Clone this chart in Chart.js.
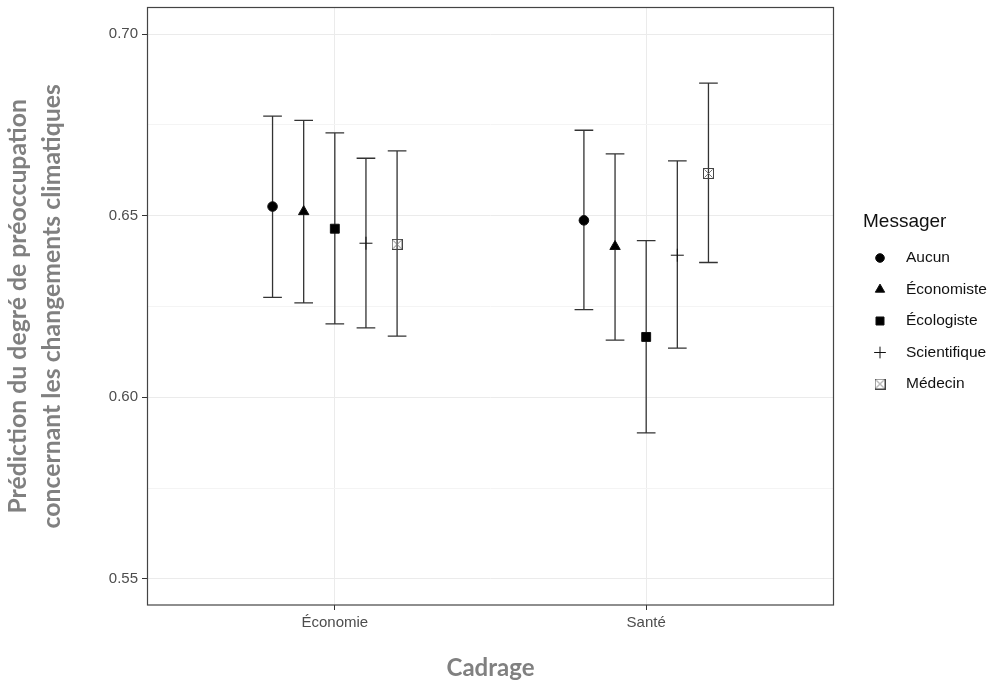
<!DOCTYPE html>
<html>
<head>
<meta charset="utf-8">
<title>Prédiction selon le cadrage et le messager</title>
<script src="https://cdn.jsdelivr.net/npm/chart.js@4.4.0/dist/chart.umd.min.js"></script>
<style>
  html, body { margin: 0; padding: 0; background: #fff; }
  #wrap { width: 989px; height: 683px; }
</style>
</head>
<body>
<div id="wrap"><canvas id="chart"></canvas></div>
<script>
var cadrages = ['Économie', 'Santé'];
var messagers = ['Aucun', 'Économiste', 'Écologiste', 'Scientifique', 'Médecin'];

// predictions and 95% bounds, ordered like messagers
var estEconomie  = [0.6525, 0.6511, 0.6464, 0.6424, 0.6421];
var lowEconomie  = [0.6275, 0.6260, 0.6202, 0.6191, 0.6168];
var highEconomie = [0.6774, 0.6762, 0.6728, 0.6658, 0.6678];

var estSante  = [0.6487, 0.6415, 0.6166, 0.6391, 0.6616];
var lowSante  = [0.6241, 0.6157, 0.5902, 0.6135, 0.6371];
var highSante = [0.6735, 0.6670, 0.6431, 0.6651, 0.6865];

var yMajor = [0.55, 0.60, 0.65, 0.70];
var yMinor = [0.575, 0.625, 0.675];

var dodge = 0.1;      // space between messagers inside a cadrage
var capWidth = 0.06;  // errorbar cap, x units

// marker for Médecin: square with an X inside
function boxX() {
  var c = document.createElement('canvas');
  c.width = 11; c.height = 11;
  var g = c.getContext('2d');
  g.strokeStyle = '#444';
  g.lineWidth = 1;
  g.strokeRect(0.5, 0.5, 10, 10);
  g.strokeStyle = '#777';
  g.beginPath();
  g.moveTo(1.5, 1.5); g.lineTo(9.5, 9.5);
  g.moveTo(9.5, 1.5); g.lineTo(1.5, 9.5);
  g.stroke();
  return c;
}

var styles = [
  { pointStyle: 'circle',   radius: 4.8 },
  { pointStyle: 'triangle', radius: 6 },
  { pointStyle: 'rect',     radius: 6.3 },
  { pointStyle: 'cross',    radius: 6.5 },
  { pointStyle: boxX(),     radius: 5.5 }
];

var est  = [estEconomie, estSante];
var low  = [lowEconomie, lowSante];
var high = [highEconomie, highSante];

var datasets = messagers.map(function (m, j) {
  return {
    label: m,
    data: cadrages.map(function (c, i) {
      return { x: i + 1 + (j - 2) * dodge, y: est[i][j], low: low[i][j], high: high[i][j] };
    }),
    pointStyle: styles[j].pointStyle,
    pointRadius: styles[j].radius,
    pointHoverRadius: styles[j].radius,
    backgroundColor: '#000',
    borderColor: '#111',
    borderWidth: 1,
    showLine: false
  };
});

function isMajor(v) {
  return yMajor.some(function (m) { return Math.abs(m - v) < 1e-6; });
}

function noPadding(scale) {
  scale.paddingTop = 0;
  scale.paddingBottom = 0;
  scale.paddingLeft = 0;
  scale.paddingRight = 0;
}

// vertical bars + caps, drawn under the points
var errorBars = {
  id: 'errorBars',
  beforeDatasetsDraw: function (chart) {
    var ctx = chart.ctx, xs = chart.scales.x, ys = chart.scales.y;
    ctx.save();
    ctx.strokeStyle = '#333';
    ctx.lineWidth = 1.3;
    chart.data.datasets.forEach(function (ds) {
      ds.data.forEach(function (p) {
        var x = xs.getPixelForValue(p.x);
        var x0 = xs.getPixelForValue(p.x - capWidth / 2);
        var x1 = xs.getPixelForValue(p.x + capWidth / 2);
        var yt = ys.getPixelForValue(p.high);
        var yb = ys.getPixelForValue(p.low);
        ctx.beginPath();
        ctx.moveTo(x, yt); ctx.lineTo(x, yb);
        ctx.moveTo(x0, yt); ctx.lineTo(x1, yt);
        ctx.moveTo(x0, yb); ctx.lineTo(x1, yb);
        ctx.stroke();
      });
    });
    ctx.restore();
  }
};

// panel border on all four sides
var panelBorder = {
  id: 'panelBorder',
  afterDraw: function (chart) {
    var a = chart.chartArea, ctx = chart.ctx;
    ctx.save();
    ctx.strokeStyle = '#444';
    ctx.lineWidth = 1.2;
    ctx.strokeRect(a.left - 0.5, a.top, a.right - a.left + 1, a.bottom - a.top);
    ctx.restore();
  }
};

// legend on the right, ggplot style
var messagerLegend = {
  id: 'messagerLegend',
  afterDraw: function (chart) {
    var ctx = chart.ctx;
    ctx.save();
    ctx.fillStyle = '#111';
    ctx.textBaseline = 'middle';
    ctx.textAlign = 'left';
    ctx.font = '19px "Liberation Sans", Arial, sans-serif';
    ctx.fillText('Messager', 863, 222);
    ctx.font = '15.5px "Liberation Sans", Arial, sans-serif';
    chart.data.datasets.forEach(function (ds, j) {
      var y = 258 + j * 31.5;
      ctx.fillStyle = '#000';
      ctx.strokeStyle = '#111';
      ctx.lineWidth = 1;
      Chart.helpers.drawPoint(ctx, {
        pointStyle: ds.pointStyle,
        radius: ds.pointRadius * 0.9,
        rotation: 0,
        borderWidth: 1
      }, 880, y);
      ctx.fillStyle = '#111';
      ctx.fillText(ds.label, 906, y);
    });
    ctx.restore();
  }
};

var titleFont = { family: 'Lato, "Open Sans", sans-serif', weight: 'bold' };

new Chart(document.getElementById('chart'), {
  type: 'scatter',
  data: { datasets: datasets },
  plugins: [errorBars, panelBorder, messagerLegend],
  options: {
    responsive: true,
    maintainAspectRatio: false,
    animation: false,
    layout: { padding: { top: 5, right: 156, left: 0, bottom: 0 } },
    plugins: {
      legend: { display: false },
      tooltip: { enabled: false }
    },
    scales: {
      x: {
        type: 'linear',
        min: 0.4,
        max: 2.6,
        afterBuildTicks: function (scale) {
          scale.ticks = cadrages.map(function (c, i) { return { value: i + 1 }; });
        },
        afterFit: function (scale) {
          scale.height = 78;
          noPadding(scale);
        },
        ticks: {
          color: '#4d4d4d',
          padding: 4,
          maxRotation: 0,
          font: { family: '"Liberation Sans", Arial, sans-serif', size: 15 },
          callback: function (v) { return cadrages[Math.round(v) - 1]; }
        },
        grid: { color: '#ebebeb', tickColor: '#333', tickLength: 5, lineWidth: 1 },
        border: { display: false },
        title: {
          display: true,
          text: 'Cadrage',
          color: '#808080',
          padding: { top: 0, bottom: 0 },
          font: Object.assign({ size: 24 }, titleFont)
        }
      },
      y: {
        min: 0.5428,
        max: 0.7073,
        afterBuildTicks: function (scale) {
          scale.ticks = yMajor.concat(yMinor).sort().map(function (v) { return { value: v }; });
        },
        afterFit: function (scale) {
          scale.width = 148;
          noPadding(scale);
        },
        ticks: {
          color: '#4d4d4d',
          padding: 4,
          font: { family: '"Liberation Sans", Arial, sans-serif', size: 15 },
          callback: function (v) { return isMajor(v) ? v.toFixed(2) : ''; }
        },
        grid: {
          lineWidth: 1,
          tickLength: 6,
          color: function (c) { return isMajor(c.tick.value) ? '#ebebeb' : '#f4f4f4'; },
          tickColor: function (c) { return isMajor(c.tick.value) ? '#333' : 'rgba(0,0,0,0)'; }
        },
        border: { display: false },
        title: {
          display: true,
          text: ['Prédiction du degré de préoccupation', 'concernant les changements climatiques'],
          color: '#808080',
          padding: { top: 1, bottom: 0 },
          font: Object.assign({ size: 24.8, lineHeight: 34 / 24.8 }, titleFont)
        }
      }
    }
  }
});
</script>
</body>
</html>
